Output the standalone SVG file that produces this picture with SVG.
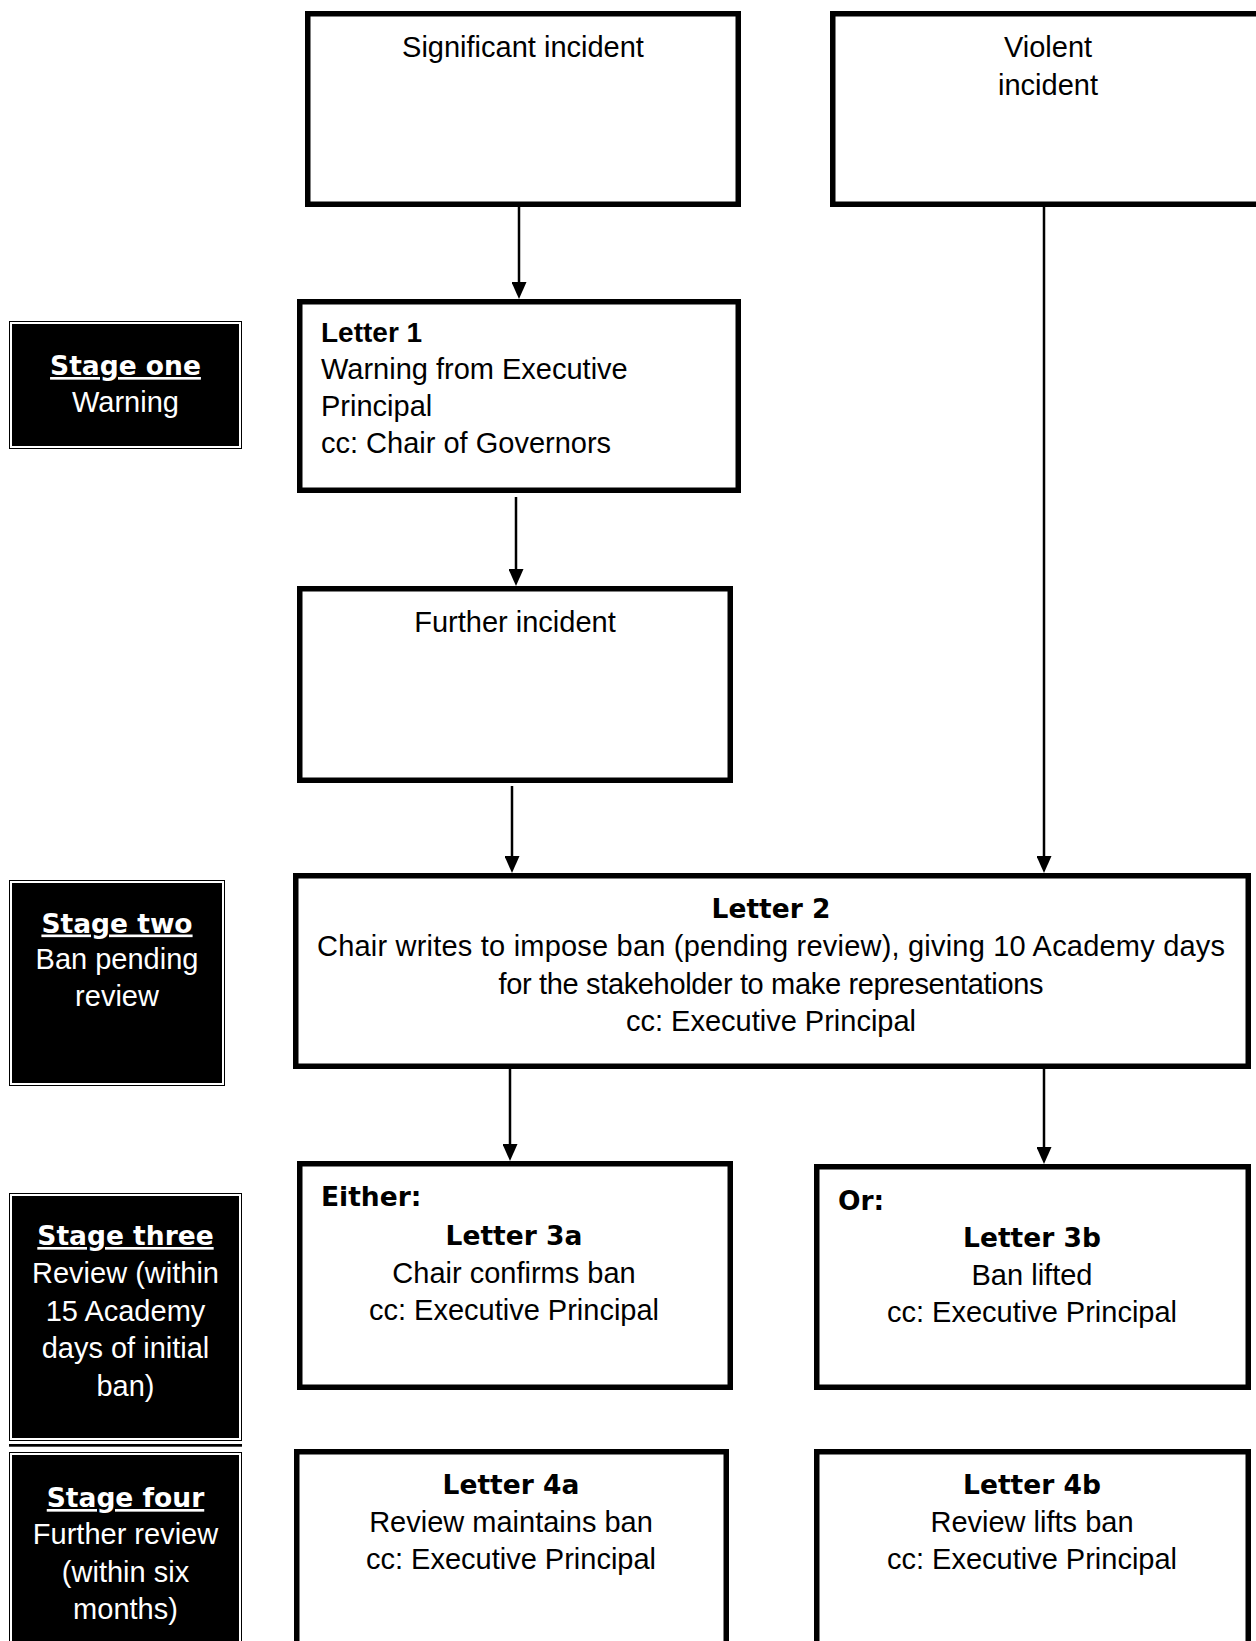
<svg xmlns="http://www.w3.org/2000/svg" width="1256" height="1641" viewBox="0 0 1256 1641">
  <style>
    .box { fill: #ffffff; stroke: #000000; stroke-width: 5.5; }
    .stage-outer { fill: #000000; }
    .stage-inner { fill: none; stroke: #ffffff; stroke-width: 2; }
    .t { font-family: "Liberation Sans", Arial, sans-serif; font-size: 29px; fill: #000000; }
    .tb { font-family: "DejaVu Sans", "Liberation Sans", sans-serif; font-weight: bold; font-size: 26.5px; fill: #000000; }
    .ta { font-family: "Liberation Sans", Arial, sans-serif; font-weight: bold; font-size: 28px; fill: #000000; }
    .c { text-anchor: middle; }
    .w { fill: #ffffff; }
    .u { text-decoration: underline; }
    .conn { stroke: #000000; stroke-width: 2.5; fill: none; marker-end: url(#ah); }
  </style>
  <defs>
    <marker id="ah" markerUnits="userSpaceOnUse" markerWidth="17" markerHeight="15" refX="9" refY="7.5" orient="auto">
      <path d="M0,0 L17,7.5 L0,15 Z" fill="#000000"/>
    </marker>
  </defs>
  <rect x="0" y="0" width="1256" height="1641" fill="#ffffff"/>

  <g id="connectors">
    <line class="conn" x1="519" y1="207" x2="519" y2="291"/>
    <line class="conn" x1="516" y1="497" x2="516" y2="578"/>
    <line class="conn" x1="512" y1="786" x2="512" y2="865"/>
    <line class="conn" x1="1044" y1="207" x2="1044" y2="865"/>
    <line class="conn" x1="510" y1="1069" x2="510" y2="1153"/>
    <line class="conn" x1="1044" y1="1069" x2="1044" y2="1156"/>
  </g>

  <g id="significant-incident">
    <rect class="box" x="307.75" y="13.75" width="430.5" height="190.5"/>
    <text class="t c" x="523" y="57">Significant incident</text>
  </g>

  <g id="violent-incident">
    <rect class="box" x="832.75" y="13.75" width="500" height="190.5"/>
    <text class="t c" x="1048" y="57">Violent</text>
    <text class="t c" x="1048" y="94.5">incident</text>
  </g>

  <g id="stage-one">
    <rect class="stage-outer" x="9" y="321" width="233" height="128"/>
    <rect class="stage-inner" x="11" y="323" width="229" height="124"/>
    <text class="tb c w u" x="125.5" y="375">Stage one</text>
    <text class="t c w" x="125.5" y="411.5">Warning</text>
  </g>

  <g id="letter-1">
    <rect class="box" x="299.75" y="301.75" width="438.5" height="188.5"/>
    <text class="ta" x="321" y="341.5">Letter 1</text>
    <text class="t" x="321" y="378.5">Warning from Executive</text>
    <text class="t" x="321" y="415.5">Principal</text>
    <text class="t" x="321" y="452.5">cc: Chair of Governors</text>
  </g>

  <g id="further-incident">
    <rect class="box" x="299.75" y="588.75" width="430.5" height="191.5"/>
    <text class="t c" x="515" y="631.5">Further incident</text>
  </g>

  <g id="stage-two">
    <rect class="stage-outer" x="9" y="880" width="216" height="206"/>
    <rect class="stage-inner" x="11" y="882" width="212" height="202"/>
    <text class="tb c w u" x="117" y="932.5">Stage two</text>
    <text class="t c w" x="117" y="969">Ban pending</text>
    <text class="t c w" x="117" y="1006">review</text>
  </g>

  <g id="letter-2">
    <rect class="box" x="295.75" y="875.75" width="952.5" height="190.5"/>
    <text class="tb c" x="771" y="918">Letter 2</text>
    <text class="t c" x="771" y="956" textLength="908" lengthAdjust="spacing">Chair writes to impose ban (pending review), giving 10 Academy days</text>
    <text class="t c" x="771" y="993.5" textLength="545" lengthAdjust="spacing">for the stakeholder to make representations</text>
    <text class="t c" x="771" y="1031">cc: Executive Principal</text>
  </g>

  <g id="stage-three">
    <rect class="stage-outer" x="9" y="1193" width="233" height="248"/>
    <rect class="stage-inner" x="11" y="1195" width="229" height="244"/>
    <rect x="9" y="1444" width="233" height="2.7" fill="#000000"/>
    <text class="tb c w u" x="125.5" y="1245">Stage three</text>
    <text class="t c w" x="125.5" y="1283">Review (within</text>
    <text class="t c w" x="125.5" y="1320.5">15 Academy</text>
    <text class="t c w" x="125.5" y="1358">days of initial</text>
    <text class="t c w" x="125.5" y="1395.5">ban)</text>
  </g>

  <g id="letter-3a">
    <rect class="box" x="299.75" y="1163.75" width="430.5" height="223.5"/>
    <text class="tb" x="321" y="1205.5">Either:</text>
    <text class="tb c" x="514" y="1245">Letter 3a</text>
    <text class="t c" x="514" y="1283">Chair confirms ban</text>
    <text class="t c" x="514" y="1320">cc: Executive Principal</text>
  </g>

  <g id="letter-3b">
    <rect class="box" x="816.75" y="1166.75" width="431.5" height="220.5"/>
    <text class="tb" x="838" y="1209.5">Or:</text>
    <text class="tb c" x="1032" y="1247">Letter 3b</text>
    <text class="t c" x="1032" y="1285">Ban lifted</text>
    <text class="t c" x="1032" y="1322">cc: Executive Principal</text>
  </g>

  <g id="stage-four">
    <rect class="stage-outer" x="9" y="1452" width="233" height="250"/>
    <rect class="stage-inner" x="11" y="1454" width="229" height="260"/>
    <text class="tb c w u" x="125.5" y="1507">Stage four</text>
    <text class="t c w" x="125.5" y="1544">Further review</text>
    <text class="t c w" x="125.5" y="1581.5">(within six</text>
    <text class="t c w" x="125.5" y="1619">months)</text>
  </g>

  <g id="letter-4a">
    <rect class="box" x="296.75" y="1451.75" width="429.5" height="300"/>
    <text class="tb c" x="511" y="1494">Letter 4a</text>
    <text class="t c" x="511" y="1532">Review maintains ban</text>
    <text class="t c" x="511" y="1569">cc: Executive Principal</text>
  </g>

  <g id="letter-4b">
    <rect class="box" x="816.75" y="1451.75" width="431.5" height="300"/>
    <text class="tb c" x="1032" y="1494">Letter 4b</text>
    <text class="t c" x="1032" y="1532">Review lifts ban</text>
    <text class="t c" x="1032" y="1569">cc: Executive Principal</text>
  </g>
</svg>
